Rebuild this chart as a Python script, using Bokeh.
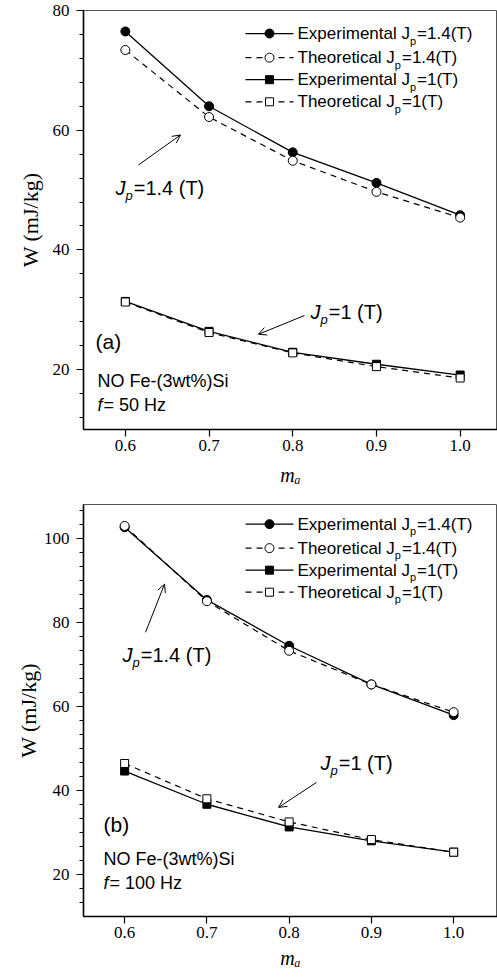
import numpy as np
from bokeh.plotting import figure
from bokeh.models import Range1d, FixedTicker, Label, Arrow, OpenHead
from bokeh.layouts import column
from bokeh.embed import file_html
from bokeh.resources import INLINE

# ---------------- data ----------------
m_a = [0.6, 0.7, 0.8, 0.9, 1.0]
# panel (a): f = 50 Hz
exp14_a = [76.5, 64.0, 56.3, 51.2, 45.8]
theo14_a = [73.4, 62.2, 54.9, 49.7, 45.4]
exp1_a = [31.4, 26.4, 22.9, 20.9, 19.1]
theo1_a = [31.3, 26.2, 22.8, 20.5, 18.6]
# panel (b): f = 100 Hz
exp14_b = [102.6, 85.3, 74.4, 65.2, 57.9]
theo14_b = [102.9, 85.0, 73.2, 65.2, 58.6]
exp1_b = [44.6, 36.7, 31.3, 28.0, 25.3]
theo1_b = [46.4, 38.0, 32.5, 28.3, 25.3]

x_ticks = [0.6, 0.7, 0.8, 0.9, 1.0]
y_ticks_a = [20, 40, 60, 80]
y_ticks_b = [20, 40, 60, 80, 100]

legend_names = ["Experimental J", "Theoretical J", "Experimental J", "Theoretical J"]
legend_tails = ["=1.4(T)", "=1.4(T)", "=1(T)", "=1(T)"]

x_label = "m\u2090"
y_label = "W (mJ/kg)"

SANS = "Liberation Sans"
SERIF = "Liberation Serif"

ARIAL_W = {' ': 278, '(': 333, ')': 333, '.': 278, '=': 584, '%': 889, '-': 333,
           'E': 667, 'J': 500, 'T': 611, 'N': 722, 'O': 778, 'F': 611, 'S': 667, 'H': 722,
           'a': 556, 'c': 500, 'e': 556, 'h': 556, 'i': 222, 'l': 222, 'm': 833, 'n': 556,
           'o': 556, 'p': 556, 'r': 333, 't': 278, 'w': 722, 'x': 500, 'z': 500, 'f': 278}


def tw(s, size):
    return sum(ARIAL_W.get(c, 556) for c in s) * size / 1000.0


def lab(p, x, y, text, size, font=SANS, style="normal", align="left", xoff=0, yoff=0):
    p.add_layout(Label(x=x, y=y, text=text, text_font=font, text_font_size=f"{size}px",
                       text_font_style=style, text_align=align, text_baseline="middle",
                       x_offset=xoff, y_offset=yoff, text_color="black"))


def jlabel(p, x, y, suffix, size, sub_size):
    lab(p, x, y, "J", size, style="italic")
    w = tw("J", size)
    lab(p, x, y, "p", sub_size, style="italic", xoff=w, yoff=-7)
    w += tw("p", sub_size) + 1
    lab(p, x, y, suffix, size, xoff=w)


def panel(height, border_top, border_bottom, xr, yr, yticks, yminor,
          exp14, theo14, exp1, theo1, leg_x, leg_ys, ylab_standoff, xlab_standoff,
          annots, arrows, jl):
    p = figure(width=497, height=height, x_range=Range1d(*xr), y_range=Range1d(*yr),
               output_backend="svg", toolbar_location=None,
               min_border_left=83, min_border_right=0,
               min_border_top=border_top, min_border_bottom=border_bottom)
    p.grid.visible = False
    p.outline_line_color = "#555555"
    p.outline_line_width = 1
    p.background_fill_color = "white"
    p.border_fill_color = "white"

    p.axis.axis_line_width = 1.6
    p.axis.axis_line_color = "black"
    p.axis.major_tick_out = 7
    p.axis.major_tick_in = 0
    p.axis.major_tick_line_width = 1.2
    p.axis.major_label_text_font = SERIF
    p.axis.major_label_text_font_size = "17px"
    p.axis.major_label_text_color = "black"
    p.axis.axis_label_text_font = SERIF
    p.axis.axis_label_text_font_size = "22px"
    p.axis.axis_label_text_color = "black"

    p.xaxis.ticker = FixedTicker(ticks=x_ticks)
    p.xaxis.minor_tick_line_color = None
    p.xaxis.major_label_standoff = 3
    p.xaxis.major_label_overrides = {v: f"{v:.1f}" for v in x_ticks}
    p.xaxis.axis_label = x_label
    p.xaxis.axis_label_text_font_style = "italic"
    p.xaxis.axis_label_text_font_size = "20px"
    p.xaxis.axis_label_standoff = xlab_standoff

    p.yaxis.ticker = FixedTicker(ticks=yticks, minor_ticks=yminor)
    p.yaxis.minor_tick_out = 4
    p.yaxis.minor_tick_in = 0
    p.yaxis.minor_tick_line_width = 1
    p.yaxis.major_label_standoff = 7
    p.yaxis.axis_label = y_label
    p.yaxis.axis_label_text_font_style = "normal"
    p.yaxis.axis_label_standoff = ylab_standoff

    # curves
    p.line(m_a, exp14, line_color="black", line_width=1.3)
    p.line(m_a, theo14, line_color="black", line_width=1.2, line_dash="6 5")
    p.line(m_a, exp1, line_color="black", line_width=1.3)
    p.line(m_a, theo1, line_color="black", line_width=1.2, line_dash="6 5")
    # markers
    p.scatter(m_a, exp14, marker="circle", size=9, fill_color="black", line_color="black")
    p.scatter(m_a, exp1, marker="square", size=8, fill_color="black", line_color="black")
    p.scatter(m_a, theo14, marker="circle", size=9, fill_color="white", line_color="black", line_width=1)
    p.scatter(m_a, theo1, marker="square", size=8, fill_color="white", line_color="black", line_width=1)

    # legend (hand drawn so the subscript can be rendered)
    x0, xm, x1, xt = leg_x
    styles = [("solid", "circle", "black"), ("dashed", "circle", "white"),
              ("solid", "square", "black"), ("dashed", "square", "white")]
    for (dash, mk, fc), yy, name, tail in zip(styles, leg_ys, legend_names, legend_tails):
        p.line([x0, x1], [yy, yy], line_color="black", line_width=1.3,
               line_dash="solid" if dash == "solid" else "6 5")
        p.scatter([xm], [yy], marker=mk, size=9 if mk == "circle" else 8,
                  fill_color=fc, line_color="black")
        lab(p, xt, yy, name, 17)
        w = tw(name, 17)
        lab(p, xt, yy, "p", 11, xoff=w, yoff=-7)
        w += tw("p", 11) + 1
        lab(p, xt, yy, tail, 17, xoff=w)

    # annotations
    for (tx, ty, txt, sz, st) in annots:
        if txt.startswith("f"):
            lab(p, tx, ty, "f", sz, style="italic")
            lab(p, tx, ty, txt[1:], sz, xoff=tw("f", sz) + 1)
        else:
            lab(p, tx, ty, txt, sz, style=st)
    for (xs, ys, xe, ye) in arrows:
        p.add_layout(Arrow(end=OpenHead(size=8, line_width=1, line_color="black"),
                           x_start=xs, y_start=ys, x_end=xe, y_end=ye,
                           line_width=1, line_color="black"))
    for (jx, jy, suffix) in jl:
        jlabel(p, jx, jy, suffix, 20, 13)
    return p


minor_a = [v for v in np.arange(12, 80, 4) if v % 20 != 0]
minor_b = [v for v in np.arange(10, 108.5, 10 / 3) if abs(v - round(v / 20) * 20) > 0.5 and v > 10.5]

p1 = panel(496, 10, 67, (0.55, 1.0446), (10, 80), y_ticks_a, minor_a,
           exp14_a, theo14_a, exp1_a, theo1_a,
           (0.7435, 0.7722, 0.8009, 0.8057), [76.15, 72.12, 68.44, 64.75],
           7, 10,
           [(0.5643, 24.7, "(a)", 21, "normal"),
            (0.5667, 18.16, "NO Fe-(3wt%)Si", 18, "normal"),
            (0.5667, 14.14, "f = 50 Hz", 18, "normal")],
           [(0.6157, 54.2, 0.6659, 59.2), (0.814, 29.05, 0.759, 25.9)],
           [(0.5882, 50.34, "=1.4 (T)"), (0.8212, 29.56, "=1 (T)")])

p2 = panel(480, 8, 60, (0.55, 1.0533), (10, 108), y_ticks_b, minor_b,
           exp14_b, theo14_b, exp1_b, theo1_b,
           (0.747, 0.7761, 0.8053, 0.8102), [103.33, 97.62, 92.38, 87.14],
           0, 6,
           [(0.5743, 31.9, "(b)", 21, "normal"),
            (0.5743, 23.57, "NO Fe-(3wt%)Si", 18, "normal"),
            (0.5743, 17.86, "f = 100 Hz", 18, "normal")],
           [(0.6254, 77.6, 0.6485, 89.05), (0.8333, 41.9, 0.7871, 35.95)],
           [(0.5974, 72.14, "=1.4 (T)"), (0.8381, 46.43, "=1 (T)")])

layout = column(p1, p2, spacing=0)
open("out.html", "w").write(file_html(layout, INLINE))
